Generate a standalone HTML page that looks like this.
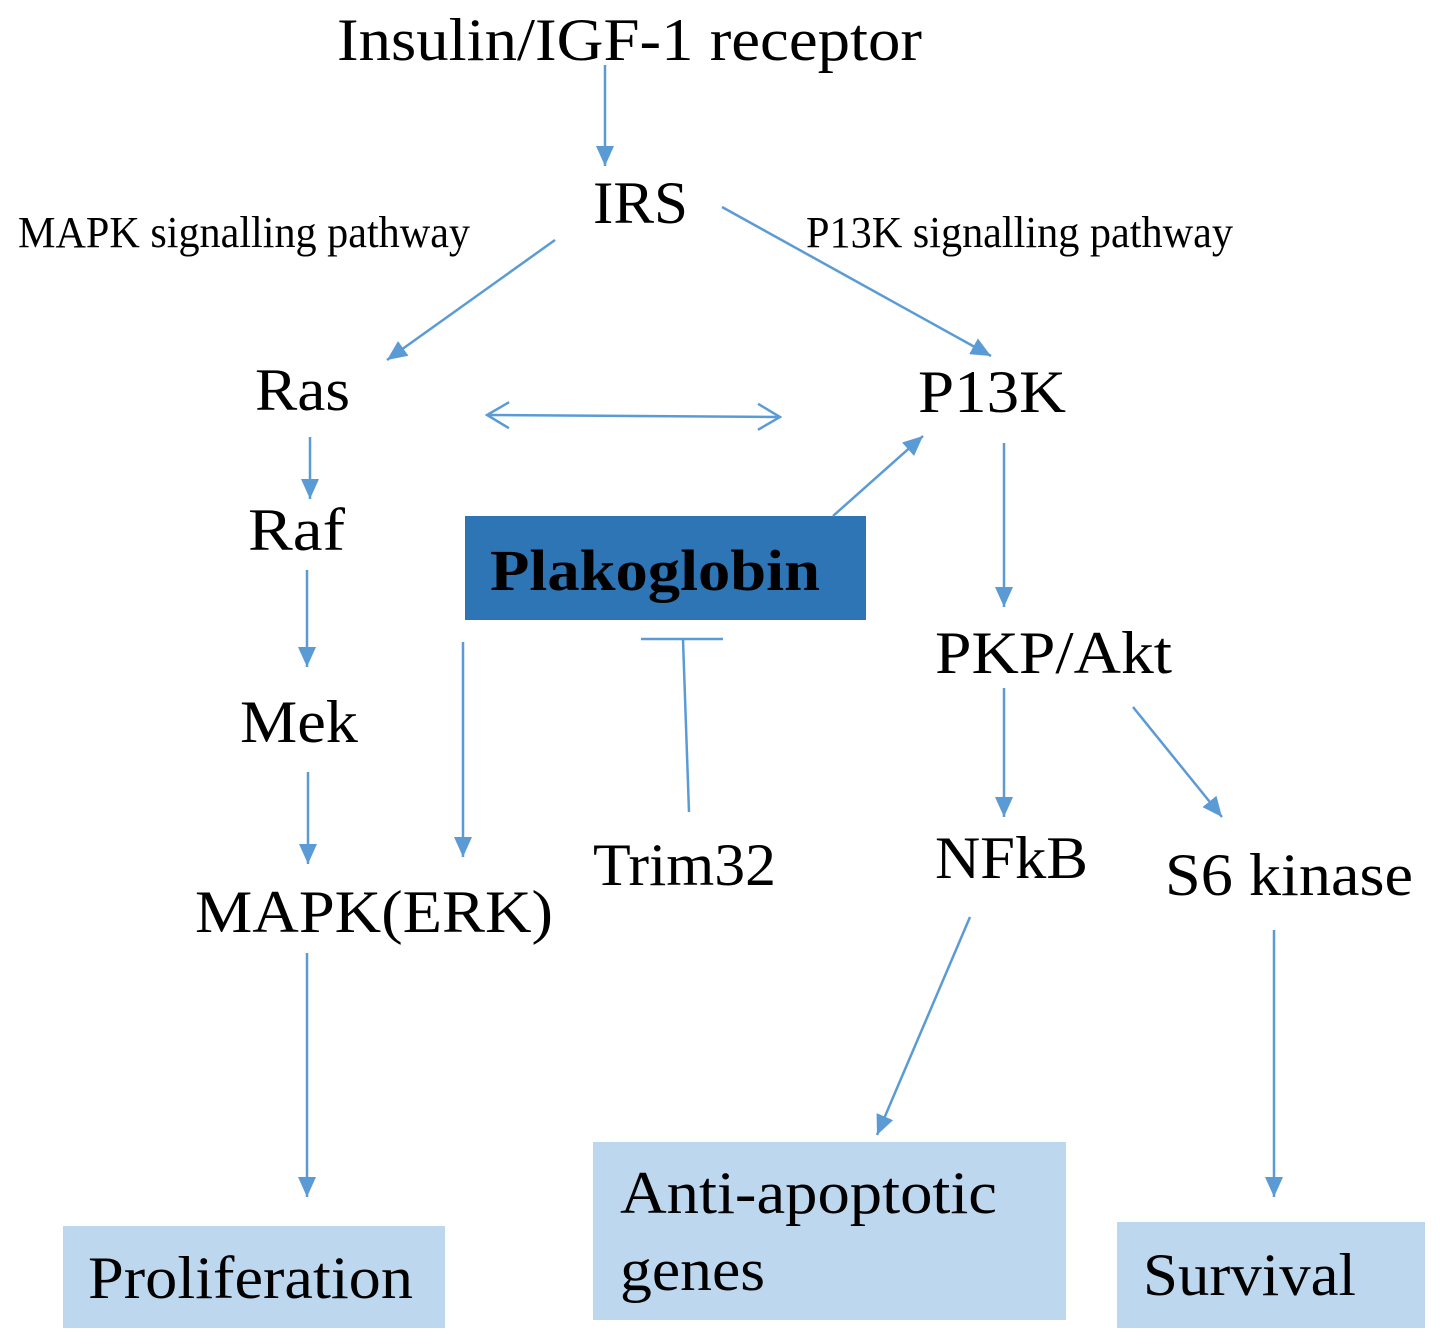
<!DOCTYPE html>
<html><head><meta charset="utf-8"><style>
html,body{margin:0;padding:0;background:#fff;}
svg{display:block;}
text{font-family:"Liberation Serif",serif;fill:#000;}
</style></head><body>
<svg width="1441" height="1343" viewBox="0 0 1441 1343" xmlns="http://www.w3.org/2000/svg">
<defs>
<marker id="a" markerWidth="10" markerHeight="8" refX="9" refY="4" orient="auto" markerUnits="userSpaceOnUse" viewBox="0 0 10 8">
<path d="M0,0 L10,4 L0,8 z" fill="#5b9bd5"/>
</marker>
<marker id="ah" markerWidth="22" markerHeight="18" refX="20" refY="9" orient="auto" markerUnits="userSpaceOnUse">
<path d="M0,0 L20,9 L0,18 z" fill="#5b9bd5"/>
</marker>
<marker id="o" markerWidth="26" markerHeight="30" refX="24" refY="15" orient="auto" markerUnits="userSpaceOnUse">
<path d="M2,2 L24,15 L2,28" fill="none" stroke="#5b9bd5" stroke-width="2.5"/>
</marker>
<marker id="os" markerWidth="26" markerHeight="30" refX="2" refY="15" orient="auto" markerUnits="userSpaceOnUse">
<path d="M24,2 L2,15 L24,28" fill="none" stroke="#5b9bd5" stroke-width="2.5"/>
</marker>
</defs>
<rect x="465" y="516" width="401" height="104" fill="#2e75b6"/>
<rect x="63" y="1226" width="382" height="102" fill="#bdd7ee"/>
<rect x="593" y="1142" width="473" height="178" fill="#bdd7ee"/>
<rect x="1117" y="1222" width="308" height="106" fill="#bdd7ee"/>
<g stroke="#5b9bd5" stroke-width="2.5" fill="none">
<line x1="605" y1="65" x2="605" y2="166" marker-end="url(#ah)"/>
<line x1="555" y1="240" x2="387" y2="360" marker-end="url(#ah)"/>
<line x1="722" y1="207" x2="991" y2="356" marker-end="url(#ah)"/>
<line x1="487" y1="415" x2="780" y2="417" marker-start="url(#os)" marker-end="url(#o)"/>
<line x1="310" y1="437" x2="310" y2="499" marker-end="url(#ah)"/>
<line x1="307" y1="570" x2="307" y2="667" marker-end="url(#ah)"/>
<line x1="308" y1="772" x2="308" y2="864" marker-end="url(#ah)"/>
<line x1="307" y1="953" x2="307" y2="1197" marker-end="url(#ah)"/>
<line x1="833" y1="516" x2="923" y2="436" marker-end="url(#ah)"/>
<line x1="463" y1="642" x2="463" y2="857" marker-end="url(#ah)"/>
<line x1="641" y1="639" x2="723" y2="639"/>
<line x1="683" y1="640" x2="689" y2="812"/>
<line x1="1004" y1="443" x2="1004" y2="607" marker-end="url(#ah)"/>
<line x1="1004" y1="688" x2="1004" y2="817" marker-end="url(#ah)"/>
<line x1="1133" y1="707" x2="1222" y2="817" marker-end="url(#ah)"/>
<line x1="970" y1="917" x2="877" y2="1135" marker-end="url(#ah)"/>
<line x1="1274" y1="930" x2="1274" y2="1197" marker-end="url(#ah)"/>
</g>
<g font-size="60">
<text x="337" y="60" textLength="585" lengthAdjust="spacingAndGlyphs">Insulin/IGF-1 receptor</text>
<text x="593" y="223" textLength="95" lengthAdjust="spacingAndGlyphs">IRS</text>
<text x="255" y="410" textLength="95" lengthAdjust="spacingAndGlyphs">Ras</text>
<text x="918" y="412" textLength="148" lengthAdjust="spacingAndGlyphs">P13K</text>
<text x="248" y="550" textLength="97" lengthAdjust="spacingAndGlyphs">Raf</text>
<text x="240" y="742" textLength="118" lengthAdjust="spacingAndGlyphs">Mek</text>
<text x="195" y="932" textLength="358" lengthAdjust="spacingAndGlyphs">MAPK(ERK)</text>
<text x="593" y="885" textLength="183" lengthAdjust="spacingAndGlyphs">Trim32</text>
<text x="935" y="673" textLength="237" lengthAdjust="spacingAndGlyphs">PKP/Akt</text>
<text x="935" y="878" textLength="153" lengthAdjust="spacingAndGlyphs">NFkB</text>
<text x="1165" y="895" textLength="248" lengthAdjust="spacingAndGlyphs">S6 kinase</text>
<text x="88" y="1298" textLength="325" lengthAdjust="spacingAndGlyphs">Proliferation</text>
<text x="620" y="1213" textLength="377" lengthAdjust="spacingAndGlyphs">Anti-apoptotic</text>
<text x="620" y="1290" textLength="145" lengthAdjust="spacingAndGlyphs">genes</text>
<text x="1143" y="1295" textLength="213" lengthAdjust="spacingAndGlyphs">Survival</text>
</g>
<text x="490" y="590" font-size="58" font-weight="bold" textLength="330" lengthAdjust="spacingAndGlyphs">Plakoglobin</text>
<g font-size="44">
<text x="18" y="247" textLength="452" lengthAdjust="spacingAndGlyphs">MAPK signalling  pathway</text>
<text x="806" y="247" textLength="427" lengthAdjust="spacingAndGlyphs">P13K signalling  pathway</text>
</g>
</svg>
</body></html>
